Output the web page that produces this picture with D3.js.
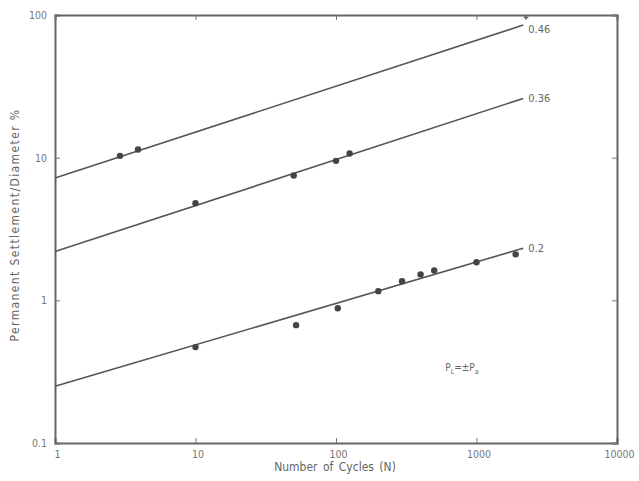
<!DOCTYPE html>
<html>
<head>
<meta charset="utf-8">
<script src="https://cdn.jsdelivr.net/npm/d3@7"></script>
<style>
  body { margin: 0; background: #fff; }
  text { font-family: "DejaVu Sans Condensed", "DejaVu Sans", sans-serif; fill: #666; }
</style>
</head>
<body>
<div id="chart"></div>
<script>
// data
var lineLabels = ["0.46", "0.36", "0.2"];
var lineCycles = [1, 2150];              // start and end of each fitted line
var line046 = [7.2, 85];
var line036 = [2.2, 26];
var line020 = [0.25, 2.32];
var labelShift = [8, 4, 4];              // vertical nudge of the line labels

var pts046N = [2.9, 3.9];
var pts046S = [10.3, 11.4];
var pts036N = [10, 50, 100, 125];
var pts036S = [4.8, 7.5, 9.5, 10.7];
var pts020N = [10, 52, 103, 200, 295, 400, 500, 1000, 1900];
var pts020S = [0.47, 0.67, 0.88, 1.16, 1.36, 1.52, 1.62, 1.85, 2.1];
var starPoint = [2250, 96];

var xTicks = [1, 10, 100, 1000, 10000];
var yTicks = [0.1, 1, 10, 100];

//set margins, width, and height
var margin = {top: 15, right: 22, bottom: 38, left: 55},
  width = 639 - margin.left - margin.right,
  height = 481 - margin.top - margin.bottom;

var x = d3.scaleLog().domain([1, 10000]).range([0, width]);
var y = d3.scaleLog().domain([0.1, 100]).range([height, 0]);

var svg = d3.select("#chart").append("svg")
  .attr("width", 639)
  .attr("height", 481);

var g = svg.append("g")
  .attr("transform", "translate(" + margin.left + "," + margin.top + ")");

var fmt = function(d) { return String(d); };

//axes, ticks pointing inwards
var xAxis = g.append("g")
  .attr("transform", "translate(0," + height + ")")
  .call(d3.axisBottom(x).tickValues(xTicks).tickFormat(fmt).tickSize(-5).tickPadding(8));
var yAxis = g.append("g")
  .call(d3.axisLeft(y).tickValues(yTicks).tickFormat(fmt).tickSize(-5).tickPadding(8));
g.append("g")
  .call(d3.axisTop(x).tickValues(xTicks).tickFormat("").tickSize(-5));
g.append("g")
  .attr("transform", "translate(" + width + ",0)")
  .call(d3.axisRight(y).tickValues(yTicks).tickFormat("").tickSize(-5));

g.selectAll(".domain").attr("stroke", "#666").attr("stroke-width", 2);
g.selectAll(".tick line").attr("stroke", "#777").attr("stroke-width", 1);
g.selectAll(".tick text").attr("font-size", 10.5).style("fill", "#777")
  .attr("font-family", "DejaVu Sans Condensed, DejaVu Sans, sans-serif");
xAxis.selectAll(".tick text").attr("dx", 2);

//fitted lines
var lineVals = [line046, line036, line020];
var line = d3.line()
  .x(function(d) { return x(d[0]); })
  .y(function(d) { return y(d[1]); });

lineVals.forEach(function(v, i) {
  var seg = [[lineCycles[0], v[0]], [lineCycles[1], v[1]]];
  g.append("path")
    .datum(seg)
    .attr("fill", "none")
    .attr("stroke", "#555")
    .attr("stroke-width", 1.6)
    .attr("d", line);
  g.append("text")
    .attr("x", x(lineCycles[1]) + 5)
    .attr("y", y(v[1]) + labelShift[i])
    .attr("font-size", 11)
    .text(lineLabels[i]);
});

//data points
var ptsN = [pts046N, pts036N, pts020N];
var ptsS = [pts046S, pts036S, pts020S];
ptsN.forEach(function(ns, i) {
  g.selectAll(".pt" + i)
    .data(ns.map(function(n, j) { return [n, ptsS[i][j]]; }))
    .enter().append("circle")
    .attr("class", "pt" + i)
    .attr("cx", function(d) { return x(d[0]); })
    .attr("cy", function(d) { return y(d[1]); })
    .attr("r", 3.2)
    .attr("fill", "#444");
});

g.append("path")
  .attr("transform", "translate(" + x(starPoint[0]) + "," + y(starPoint[1]) + ")")
  .attr("d", d3.symbol(d3.symbolCross, 12))
  .attr("fill", "#666");

//annotation
var ann = g.append("text")
  .attr("x", x(600))
  .attr("y", y(0.32))
  .attr("font-size", 10);
ann.append("tspan").text("P");
ann.append("tspan").attr("dy", 3).attr("font-size", 7).text("L");
ann.append("tspan").attr("dy", -3).text("=±P");
ann.append("tspan").attr("dy", 3).attr("font-size", 7).text("a");

//axis titles
svg.append("text")
  .attr("x", 335)
  .attr("y", 471)
  .attr("text-anchor", "middle")
  .attr("font-size", 12)
  .attr("word-spacing", 2)
  .text("Number of Cycles (N)");

svg.append("text")
  .attr("transform", "translate(19,225) rotate(-90)")
  .attr("text-anchor", "middle")
  .attr("font-size", 12)
  .attr("letter-spacing", 1.4)
  .text("Permanent Settlement/Diameter %");
</script>
</body>
</html>
